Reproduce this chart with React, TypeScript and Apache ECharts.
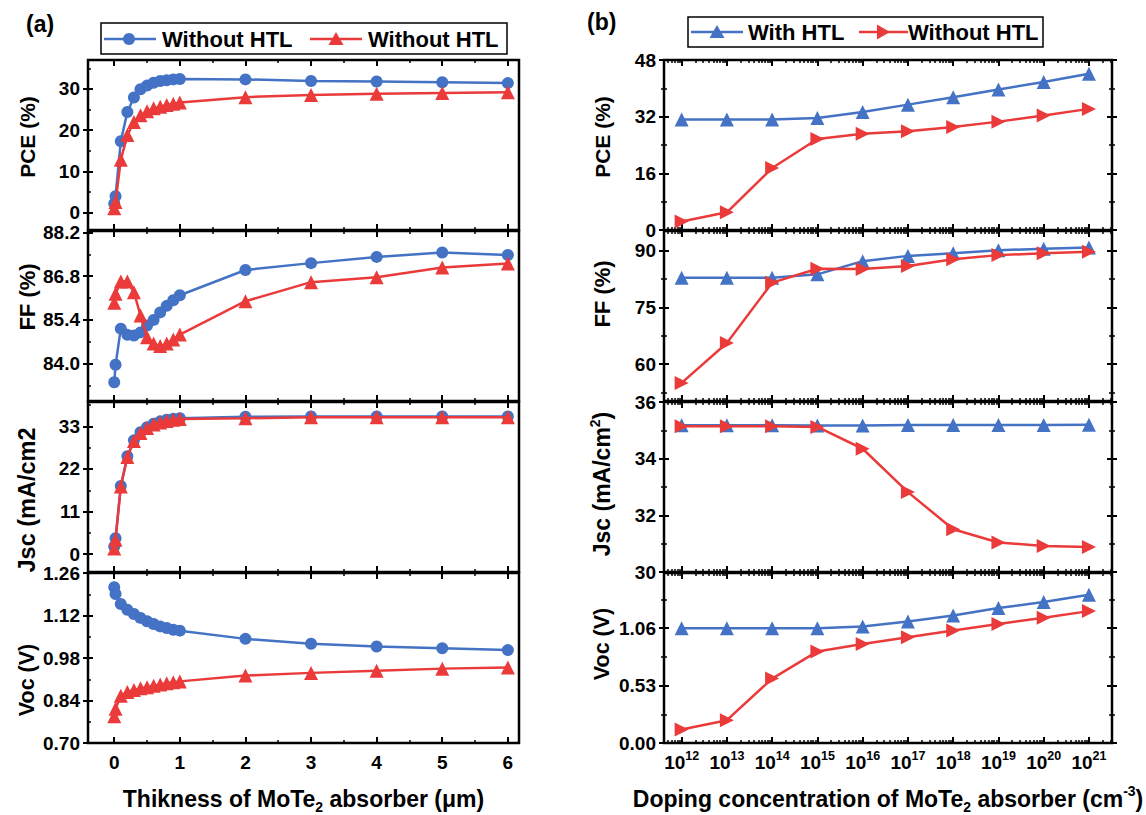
import { useEffect, useRef } from 'react';
import * as echarts from 'echarts';

// ---------- Panel (a): thickness sweep ----------
const thicknessUm = [0, 0.02, 0.1, 0.2, 0.3, 0.4, 0.5, 0.6, 0.7, 0.8, 0.9, 1, 2, 3, 4, 5, 6];
const pceCircleA = [2.2, 4.0, 17.3, 24.4, 27.9, 29.9, 30.8, 31.5, 31.9, 32.1, 32.3, 32.4, 32.3, 31.9, 31.8, 31.6, 31.4];
const pceTriA = [1.05, 2.6, 12.8, 18.8, 22.0, 23.6, 24.6, 25.3, 25.7, 26.1, 26.4, 26.7, 28.0, 28.5, 28.8, 29.0, 29.2];
const ffCircleA = [83.4, 83.96, 85.12, 84.92, 84.9, 85.0, 85.22, 85.4, 85.64, 85.85, 86.03, 86.19, 87.0, 87.22, 87.42, 87.56, 87.48];
const ffTriA = [85.95, 86.24, 86.63, 86.63, 86.29, 85.54, 84.84, 84.64, 84.56, 84.64, 84.77, 84.93, 86.0, 86.61, 86.77, 87.08, 87.21];
const jscCircleA = [2.0, 4.1, 17.6, 25.3, 29.4, 31.5, 32.8, 33.7, 34.3, 34.7, 34.95, 35.1, 35.5, 35.55, 35.55, 35.55, 35.55];
const jscTriA = [1.45, 3.7, 17.5, 25.1, 29.2, 31.3, 32.6, 33.5, 34.0, 34.4, 34.7, 34.9, 35.1, 35.35, 35.35, 35.35, 35.35];
const vocCircleA = [1.213, 1.191, 1.158, 1.139, 1.125, 1.112, 1.101, 1.092, 1.084, 1.079, 1.073, 1.07, 1.043, 1.027, 1.018, 1.012, 1.006];
const vocTriA = [0.788, 0.813, 0.856, 0.868, 0.875, 0.88, 0.884, 0.889, 0.893, 0.897, 0.9, 0.903, 0.922, 0.931, 0.938, 0.945, 0.949];

const thicknessTicks = [0, 1, 2, 3, 4, 5, 6];
const thicknessMinorTicks = [0.5, 1.5, 2.5, 3.5, 4.5, 5.5];
const pceTicksA = [0, 10, 20, 30];
const pceMinorA = [5, 15, 25, 35];
const ffTicksA = [84.0, 85.4, 86.8, 88.2];
const ffMinorA = [83.3, 84.7, 86.1, 87.5];
const jscTicksA = [0, 11, 22, 33];
const jscMinorA = [5.5, 16.5, 27.5, 38.5];
const vocTicksA = [0.7, 0.84, 0.98, 1.12, 1.26];
const vocMinorA = [0.77, 0.91, 1.05, 1.19];

// ---------- Panel (b): doping sweep (x = log10 of cm^-3) ----------
const dopingExp = [12, 13, 14, 15, 16, 17, 18, 19, 20, 21];
const pceWithB = [31.2, 31.2, 31.2, 31.6, 33.3, 35.4, 37.5, 39.7, 41.8, 44.1];
const pceWithoutB = [2.4, 5.0, 17.5, 25.7, 27.2, 27.9, 29.1, 30.6, 32.3, 34.2];
const ffWithB = [82.9, 82.9, 82.9, 83.8, 87.3, 88.7, 89.4, 90.2, 90.6, 90.9];
const ffWithoutB = [55.0, 65.6, 81.6, 85.3, 85.2, 86.0, 87.8, 88.9, 89.4, 89.8];
const jscWithB = [35.18, 35.18, 35.18, 35.17, 35.17, 35.19, 35.19, 35.19, 35.19, 35.2];
const jscWithoutB = [35.14, 35.14, 35.14, 35.12, 34.35, 32.82, 31.51, 31.04, 30.92, 30.88];
const vocWithB = [1.06, 1.06, 1.06, 1.06, 1.076, 1.122, 1.178, 1.246, 1.302, 1.37];
const vocWithoutB = [0.124, 0.211, 0.595, 0.846, 0.914, 0.976, 1.038, 1.1, 1.156, 1.218];

const dopingTicks = [12, 13, 14, 15, 16, 17, 18, 19, 20, 21];
const pceTicksB = [0, 16, 32, 48];
const pceMinorB = [8, 24, 40];
const ffTicksB = [60, 75, 90];
const ffMinorB = [52.5, 67.5, 82.5];
const jscTicksB = [30, 32, 34, 36];
const jscMinorB = [31, 33, 35];
const vocTicksB = [0, 0.53, 1.06];
const vocMinorB = [0.265, 0.795, 1.325];

const FONT = 'Arial, "Liberation Sans", Helvetica, sans-serif';
const BLUE = '#4472C4';
const RED = '#EA3A3A';
const TOPS = [60, 231, 402, 573];
const H = 170;

type Panel = {
  title: string;
  titleY: number;
  titleSize: number;
  min: number;
  max: number;
  majors: number[];
  minors: number[];
  digits: number;
  blue: number[];
  red: number[];
};

const leftPanels: Panel[] = [
  { title: 'PCE (%)', titleY: 137, titleSize: 21, min: -4.2, max: 37, majors: pceTicksA, minors: pceMinorA, digits: 0, blue: pceCircleA, red: pceTriA },
  { title: 'FF (%)', titleY: 297, titleSize: 22, min: 82.8, max: 88.25, majors: ffTicksA, minors: ffMinorA, digits: 1, blue: ffCircleA, red: ffTriA },
  { title: 'Jsc (mA/cm2', titleY: 500, titleSize: 23.5, min: -4.6, max: 39.3, majors: jscTicksA, minors: jscMinorA, digits: 0, blue: jscCircleA, red: jscTriA },
  { title: 'Voc (V)', titleY: 680, titleSize: 21.5, min: 0.7, max: 1.26, majors: vocTicksA, minors: vocMinorA, digits: 2, blue: vocCircleA, red: vocTriA },
];

const rightPanels: Panel[] = [
  { title: 'PCE (%)', titleY: 137, titleSize: 21, min: 0, max: 48, majors: pceTicksB, minors: pceMinorB, digits: 0, blue: pceWithB, red: pceWithoutB },
  { title: 'FF (%)', titleY: 294, titleSize: 22, min: 50.2, max: 95.3, majors: ffTicksB, minors: ffMinorB, digits: 0, blue: ffWithB, red: ffWithoutB },
  { title: '{t|Jsc (mA/cm}{sup|2}{t|)}', titleY: 484, titleSize: 23, min: 30, max: 36, majors: jscTicksB, minors: jscMinorB, digits: 0, blue: jscWithB, red: jscWithoutB },
  { title: 'Voc (V)', titleY: 644, titleSize: 21.5, min: 0, max: 1.57, majors: vocTicksB, minors: vocMinorB, digits: 2, blue: vocWithB, red: vocWithoutB },
];

function buildOption() {
  const grid: any[] = [];
  const xAxis: any[] = [];
  const yAxis: any[] = [];
  const series: any[] = [];
  const graphic: any[] = [];

  const xRangeL = { min: -0.4, max: 6.17 };
  const xRangeR = { min: 11.61, max: 21.51 };
  const logMinor: number[] = [];
  for (let n = 11; n <= 21; n++) {
    for (let k = 2; k <= 9; k++) {
      const v = n + Math.log10(k);
      if (v > xRangeR.min && v < xRangeR.max) logMinor.push(v);
    }
  }

  const labelBase = { color: '#000', fontFamily: FONT, fontWeight: 'bold', fontSize: 19 };
  const nameBase = { color: '#000', fontFamily: FONT, fontWeight: 'bold', fontSize: 23 };

  function tickAxis(gi: number, range: any, position: string, values: number[], inside: boolean, length: number, width: number) {
    const vals = values.filter((v) => v >= range.min - 1e-9 && v <= range.max + 1e-9);
    return {
      type: 'value',
      gridIndex: gi,
      min: range.min,
      max: range.max,
      position,
      offset: 0,
      axisLine: { show: false, onZero: false },
      axisTick: { show: true, inside, length, customValues: vals, lineStyle: { color: '#000', width } },
      axisLabel: { show: false },
      splitLine: { show: false },
      minorTick: { show: false },
    };
  }

  function addPanel(isL: boolean, row: number, p: Panel) {
    const gi = grid.length;
    const left = isL ? 88 : 664;
    grid.push({
      left,
      width: isL ? 431 : 448,
      top: TOPS[row],
      height: H,
      show: true,
      borderColor: '#000',
      borderWidth: 2.5,
      backgroundColor: 'transparent',
    });
    const xr = isL ? xRangeL : xRangeR;
    const xMaj = isL ? thicknessTicks : dopingTicks;
    const xMin = isL ? thicknessMinorTicks : logMinor;
    const last = row === 3;
    const mainX = xAxis.length;
    const mx: any = tickAxis(gi, xr, 'bottom', xMaj, true, 6, 2);
    if (last) {
      mx.axisLabel = isL
        ? { show: true, customValues: xMaj, margin: 10, ...labelBase, formatter: (v: number) => String(Math.round(v)) }
        : {
            show: true,
            customValues: xMaj,
            margin: 6,
            formatter: (v: number) => `{b|10}{s|${Math.round(v)}}`,
            rich: {
              b: { ...labelBase, fontSize: 19, lineHeight: 26 },
              s: { ...labelBase, fontSize: 12.5, lineHeight: 12, verticalAlign: 'top' },
            },
          };
      mx.name = isL ? 'Thikness of MoTe{sub|2} absorber (\u03bcm)' : 'Doping concentration of MoTe{sub|2} absorber (cm{sup|-3})';
      mx.nameLocation = 'middle';
      mx.nameGap = 41;
      mx.nameTextStyle = {
        ...nameBase,
        lineHeight: 30,
        rich: {
          sub: { ...nameBase, fontSize: 14, lineHeight: 14, verticalAlign: 'bottom' },
          sup: { ...nameBase, fontSize: 14, lineHeight: 14, verticalAlign: 'top' },
        },
      };
    }
    xAxis.push(mx);
    xAxis.push(tickAxis(gi, xr, 'bottom', xMin, true, 3, 1.5));
    xAxis.push(tickAxis(gi, xr, 'top', xMaj, true, 6, 2));
    xAxis.push(tickAxis(gi, xr, 'top', xMin, true, 3, 1.5));

    const yr = { min: p.min, max: p.max };
    const mainY = yAxis.length;
    const my: any = tickAxis(gi, yr, 'left', p.majors, false, 5, 2);
    my.axisLabel = {
      show: true,
      customValues: p.majors,
      margin: 8,
      ...labelBase,
      formatter: (v: number) => v.toFixed(p.digits),
    };
    yAxis.push(my);
    yAxis.push(tickAxis(gi, yr, 'left', p.majors, true, 5, 2));
    yAxis.push(tickAxis(gi, yr, 'left', p.minors, true, 3, 1.5));
    if (!isL) {
      yAxis.push(tickAxis(gi, yr, 'left', p.minors, false, 3, 1.5));
      yAxis.push(tickAxis(gi, yr, 'right', p.majors, true, 5, 2));
      yAxis.push(tickAxis(gi, yr, 'right', p.majors, false, 5, 2));
      yAxis.push(tickAxis(gi, yr, 'right', p.minors, true, 3, 1.5));
      yAxis.push(tickAxis(gi, yr, 'right', p.minors, false, 3, 1.5));
    }

    // y-axis title (rotated text)
    graphic.push({
      type: 'text',
      x: isL ? 27 : 602,
      y: p.titleY,
      rotation: Math.PI / 2,
      style: {
        text: p.title,
        fill: '#000',
        font: `bold ${p.titleSize}px ${FONT}`,
        align: 'center',
        verticalAlign: 'middle',
        textAlign: 'center',
        textVerticalAlign: 'middle',
        rich: {
          t: { fill: '#000', font: `bold ${p.titleSize}px ${FONT}`, lineHeight: 28 },
          sup: { fill: '#000', font: `bold 14px ${FONT}`, lineHeight: 14, verticalAlign: 'top' },
        },
      },
      z: 20,
    });

    const xs = isL ? thicknessUm : dopingExp;
    series.push({
      type: 'line',
      xAxisIndex: mainX,
      yAxisIndex: mainY,
      data: xs.map((x, i) => [x, p.blue[i]]),
      symbol: isL ? 'circle' : 'triangle',
      symbolSize: isL ? 12 : 14,
      lineStyle: { color: BLUE, width: 2.5 },
      itemStyle: { color: BLUE },
      clip: false,
      z: 3,
    });
    series.push({
      type: 'line',
      xAxisIndex: mainX,
      yAxisIndex: mainY,
      data: xs.map((x, i) => [x, p.red[i]]),
      symbol: 'triangle',
      symbolSize: 14,
      symbolRotate: isL ? 0 : -90,
      lineStyle: { color: RED, width: 2.5 },
      itemStyle: { color: RED },
      clip: false,
      z: 4,
    });
  }

  leftPanels.forEach((p, i) => addPanel(true, i, p));
  rightPanels.forEach((p, i) => addPanel(false, i, p));

  const txt = (text: string, x: number, y: number, size = 22) => ({
    type: 'text',
    x,
    y,
    style: { text, fill: '#000', font: `bold ${size}px ${FONT}`, textVerticalAlign: 'middle', verticalAlign: 'middle' },
    z: 20,
  });

  graphic.push(
    txt('(a)', 26, 24, 23),
    txt('(b)', 587, 22, 23),
    // legend (a)
    { type: 'rect', shape: { x: 101, y: 23, width: 406, height: 31 }, style: { fill: '#fff', stroke: '#000', lineWidth: 1.5 }, z: 10 },
    { type: 'line', shape: { x1: 104, y1: 39, x2: 156, y2: 39 }, style: { stroke: BLUE, lineWidth: 2.5 }, z: 11 },
    { type: 'circle', shape: { cx: 129, cy: 39, r: 6 }, style: { fill: BLUE }, z: 12 },
    txt('Without HTL', 162, 39.5),
    { type: 'line', shape: { x1: 310, y1: 39, x2: 362, y2: 39 }, style: { stroke: RED, lineWidth: 2.5 }, z: 11 },
    { type: 'polygon', shape: { points: [[336, 32], [328.5, 45], [343.5, 45]] }, style: { fill: RED }, z: 12 },
    txt('Without HTL', 368, 39.5),
    // legend (b)
    { type: 'rect', shape: { x: 688, y: 17, width: 355, height: 30 }, style: { fill: '#fff', stroke: '#000', lineWidth: 1.5 }, z: 10 },
    { type: 'line', shape: { x1: 691, y1: 32, x2: 743, y2: 32 }, style: { stroke: BLUE, lineWidth: 2.5 }, z: 11 },
    { type: 'polygon', shape: { points: [[717, 25], [709.5, 38], [724.5, 38]] }, style: { fill: BLUE }, z: 12 },
    txt('With HTL', 748, 32.5),
    { type: 'line', shape: { x1: 859, y1: 32, x2: 908, y2: 32 }, style: { stroke: RED, lineWidth: 2.5 }, z: 11 },
    { type: 'polygon', shape: { points: [[890, 32], [877, 24.5], [877, 39.5]] }, style: { fill: RED }, z: 12 },
    txt('Without HTL', 908, 32.5),
  );

  return {
    animation: false,
    backgroundColor: '#fff',
    grid,
    xAxis,
    yAxis,
    series,
    graphic,
  };
}

export default function App() {
  const ref = useRef<HTMLDivElement>(null);
  useEffect(() => {
    if (!ref.current) return;
    const chart = echarts.init(ref.current, undefined, { renderer: 'svg' });
    chart.setOption(buildOption() as any);
    return () => chart.dispose();
  }, []);
  return <div ref={ref} style={{ position: 'absolute', left: 0, top: 0, width: 1146, height: 815 }} />;
}
